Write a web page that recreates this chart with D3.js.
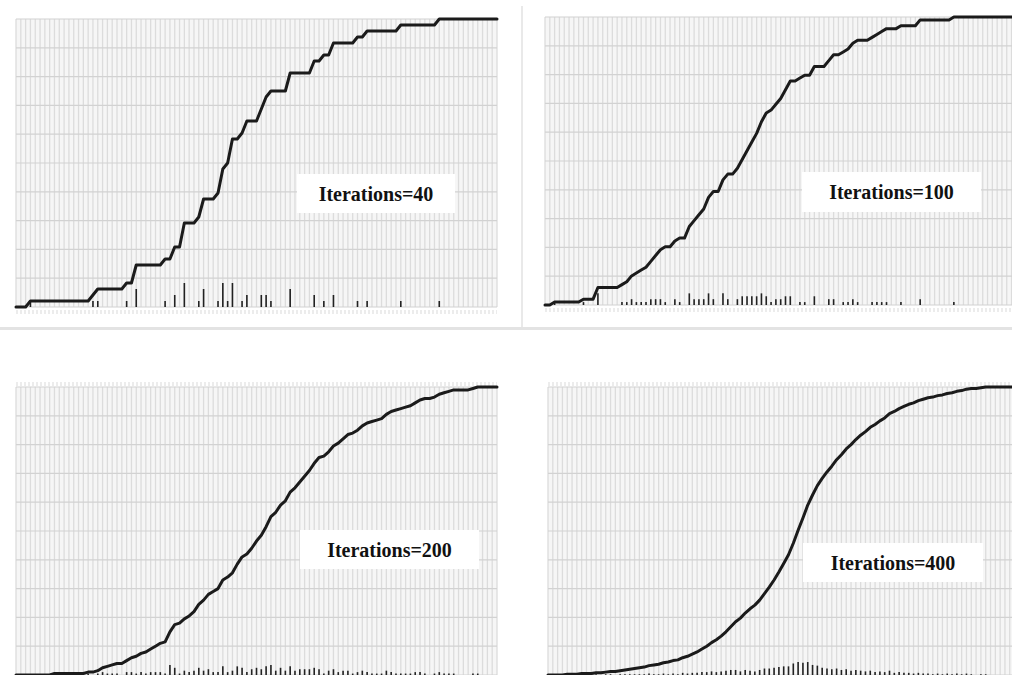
<!DOCTYPE html>
<html>
<head>
<meta charset="utf-8">
<script src="https://cdn.jsdelivr.net/npm/d3@7/dist/d3.min.js"></script>
<style>
  body { margin: 0; background: #fff; }
  svg { display: block; }
  .label { font-family: 'Liberation Serif', 'Times New Roman', serif; font-weight: bold; font-size: 20px; fill: #111; }
</style>
</head>
<body>
<div id="chart"></div>
<script>
// Histogram of samples over 100 bins: non-empty bin index and its count, one pair per run.
const bins40 = [3, 16, 17, 23, 25, 31, 33, 35, 38, 39, 42, 43, 44, 45, 47, 48, 51, 52, 53, 57, 62, 64, 66, 71, 73, 80, 88]
const counts40 = [1, 1, 1, 1, 3, 1, 2, 4, 1, 3, 1, 4, 1, 4, 1, 2, 2, 2, 1, 3, 2, 1, 2, 1, 1, 1, 1]

const bins100 = [2, 8, 11, 16, 17, 18, 19, 20, 21, 22, 23, 24, 25, 27, 28, 30, 31, 32, 33, 34, 35, 37, 38, 40, 41, 42, 43, 44, 45, 46, 47, 48, 49, 50, 51, 53, 54, 56, 59, 60, 62, 63, 64, 65, 68, 69, 70, 71, 74, 78, 85]
const counts100 = [1, 1, 4, 1, 1, 2, 1, 1, 1, 2, 2, 2, 1, 2, 1, 4, 2, 2, 2, 4, 2, 4, 2, 2, 3, 3, 3, 3, 4, 3, 1, 2, 2, 3, 3, 1, 1, 3, 2, 2, 1, 1, 2, 1, 1, 1, 1, 1, 1, 2, 1]

const bins200 = [8, 15, 17, 18, 19, 20, 21, 23, 24, 25, 26, 27, 28, 29, 30, 31, 32, 33, 34, 35, 36, 37, 38, 39, 40, 41, 42, 43, 44, 45, 46, 47, 48, 49, 50, 51, 52, 53, 54, 55, 56, 57, 58, 59, 60, 61, 62, 63, 64, 65, 66, 67, 68, 69, 70, 71, 72, 73, 74, 75, 76, 77, 78, 79, 80, 81, 82, 83, 84, 85, 87, 88, 89, 90, 91, 95, 96]
const counts200 = [1, 1, 1, 2, 1, 1, 1, 2, 2, 1, 2, 1, 2, 2, 2, 1, 7, 5, 1, 3, 2, 3, 5, 3, 4, 2, 2, 6, 2, 3, 6, 5, 2, 4, 5, 4, 6, 7, 3, 5, 3, 6, 3, 4, 4, 4, 5, 4, 1, 3, 4, 2, 3, 3, 1, 2, 3, 2, 1, 1, 1, 3, 2, 1, 1, 1, 1, 2, 2, 1, 1, 2, 1, 1, 1, 1, 1]

const bins400 = [4, 7, 10, 12, 13, 15, 16, 17, 18, 19, 20, 21, 22, 23, 24, 25, 26, 27, 28, 29, 30, 31, 32, 33, 34, 35, 36, 37, 38, 39, 40, 41, 42, 43, 44, 45, 46, 47, 48, 49, 50, 51, 52, 53, 54, 55, 56, 57, 58, 59, 60, 61, 62, 63, 64, 65, 66, 67, 68, 69, 70, 71, 72, 73, 74, 75, 76, 77, 78, 79, 80, 81, 82, 83, 84, 85, 86, 87, 88, 90, 91]
const counts400 = [1, 1, 1, 1, 1, 1, 1, 1, 1, 1, 1, 2, 1, 1, 2, 1, 2, 1, 3, 2, 3, 3, 4, 4, 5, 4, 5, 6, 7, 7, 5, 7, 6, 5, 7, 9, 9, 10, 11, 12, 12, 16, 18, 17, 18, 14, 13, 10, 9, 8, 9, 7, 8, 6, 7, 6, 5, 6, 4, 5, 4, 6, 3, 4, 3, 3, 2, 3, 2, 2, 1, 2, 1, 2, 1, 2, 1, 2, 1, 1, 1]

const labels = ['Iterations=40', 'Iterations=100', 'Iterations=200', 'Iterations=400']

// Layout of the four screenshots.
const width = 1012
const height = 675
const nBins = 100
const plotW = 481
const plotH = 288

const panels = [
  { label: labels[0], bins: bins40, counts: counts40, left: 16, top: 19, box: [297, 174, 158, 39], axisBand: 'below' },
  { label: labels[1], bins: bins100, counts: counts100, left: 545, top: 17, box: [802, 172, 179, 40], axisBand: 'below' },
  { label: labels[2], bins: bins200, counts: counts200, left: 16, top: 387, box: [300, 530, 179, 39], axisBand: 'above' },
  { label: labels[3], bins: bins400, counts: counts400, left: 548, top: 387, box: [803, 543, 180, 39], axisBand: 'above' }
]

const svg = d3.select('#chart')
  .append('svg')
    .attr('width', width)
    .attr('height', height)

// Frame lines between the screenshots.
svg.append('line')
  .attr('x1', 0).attr('x2', width)
  .attr('y1', 328.5).attr('y2', 328.5)
  .attr('stroke', '#e3e3e3')
  .attr('stroke-width', 3)
svg.append('line')
  .attr('x1', 522).attr('x2', 522)
  .attr('y1', 6).attr('y2', 327)
  .attr('stroke', '#e9e9e9')
  .attr('stroke-width', 2)

const x = d3.scaleLinear().domain([0, nBins]).range([0, plotW])
const y = d3.scaleLinear().domain([0, 1]).range([plotH, 0])

panels.forEach(function (p) {

  // Full histogram and its cumulative share.
  const counts = new Array(nBins + 1).fill(0)
  p.bins.forEach(function (b, i) { counts[b] += p.counts[i] })
  const total = d3.sum(counts)
  const cdf = Array.from(d3.cumsum(counts), function (c) { return c / total })

  const g = svg.append('g')
    .attr('transform', 'translate(' + p.left + ',' + p.top + ')')

  // Panel background.
  g.append('rect')
    .attr('width', plotW)
    .attr('height', plotH)
    .attr('fill', '#f6f6f6')

  // Dense vertical grid, one line per bin.
  g.append('g')
    .selectAll('line')
    .data(d3.range(nBins + 1))
    .join('line')
      .attr('x1', function (d) { return x(d) })
      .attr('x2', function (d) { return x(d) })
      .attr('y1', 0)
      .attr('y2', plotH)
      .attr('stroke', '#dcdcdc')
      .attr('stroke-width', 1.3)

  // Horizontal grid at every tenth.
  g.append('g')
    .selectAll('line')
    .data(d3.range(0, 11).map(function (d) { return d / 10 }))
    .join('line')
      .attr('x1', 0)
      .attr('x2', plotW)
      .attr('y1', function (d) { return y(d) })
      .attr('y2', function (d) { return y(d) })
      .attr('stroke', '#d2d2d2')
      .attr('stroke-width', 1.2)

  // Blurred axis labels of the original screenshot.
  g.append('line')
    .attr('x1', 0).attr('x2', plotW)
    .attr('y1', p.axisBand === 'below' ? plotH + 5 : -3)
    .attr('y2', p.axisBand === 'below' ? plotH + 5 : -3)
    .attr('stroke', '#ececec')
    .attr('stroke-width', 4)
    .attr('stroke-dasharray', '2,2')

  // Histogram bars.
  g.append('g')
    .selectAll('line')
    .data(p.bins.map(function (b, i) { return { bin: b, share: p.counts[i] / total } }))
    .join('line')
      .attr('x1', function (d) { return x(d.bin) })
      .attr('x2', function (d) { return x(d.bin) })
      .attr('y1', y(0))
      .attr('y2', function (d) { return y(d.share) })
      .attr('stroke', '#222')
      .attr('stroke-width', 1.6)

  // Cumulative curve.
  const line = d3.line()
    .x(function (d, i) { return x(i) })
    .y(function (d) { return y(d) })

  g.append('path')
    .datum(cdf)
    .attr('d', line)
    .attr('fill', 'none')
    .attr('stroke', '#1b1b1b')
    .attr('stroke-width', 3)
    .attr('stroke-linejoin', 'round')
    .attr('stroke-linecap', 'round')

  // Label box.
  svg.append('rect')
    .attr('x', p.box[0])
    .attr('y', p.box[1])
    .attr('width', p.box[2])
    .attr('height', p.box[3])
    .attr('fill', '#fff')
  svg.append('text')
    .attr('class', 'label')
    .attr('x', p.box[0] + p.box[2] / 2)
    .attr('y', p.box[1] + p.box[3] / 2 + 7)
    .attr('text-anchor', 'middle')
    .text(p.label)
})
</script>
</body>
</html>
